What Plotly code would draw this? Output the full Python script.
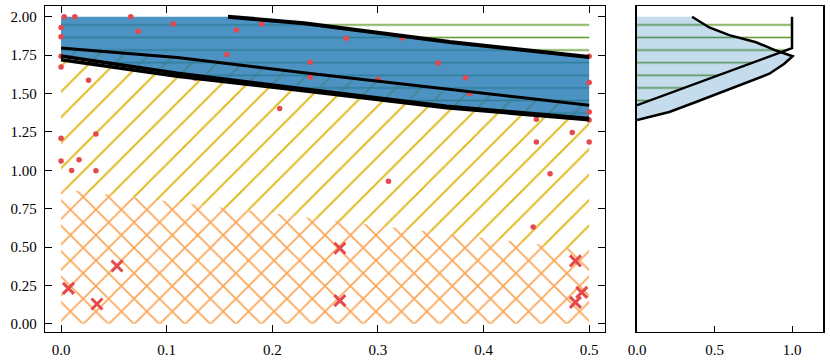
import plotly.graph_objects as go

# ---- data ----
# red dots (observations)
dot_x = [0.003, 0.013, 0.066, 0.0, 0.0, 0.073, 0.106, 0.0, 0.0, 0.026, 0.166, 0.19, 0.157,
         0.236, 0.236, 0.127, 0.27, 0.323, 0.357, 0.30, 0.383, 0.387, 0.5, 0.5, 0.5, 0.5,
         0.45, 0.484, 0.207, 0.45, 0.5, 0.0, 0.033, 0.0, 0.017, 0.010, 0.033, 0.31, 0.463, 0.447]
dot_y = [2.0, 2.0, 2.0, 1.93, 1.87, 1.905, 1.953, 1.743, 1.672, 1.586, 1.913, 1.953, 1.754,
         1.704, 1.607, 1.60, 1.86, 1.862, 1.698, 1.592, 1.603, 1.50, 1.743, 1.571, 1.38, 1.327,
         1.333, 1.247, 1.403, 1.184, 1.184, 1.208, 1.236, 1.061, 1.068, 0.999, 0.997, 0.928, 0.977, 0.63]

# red crosses
cross_x = [0.007, 0.034, 0.053, 0.264, 0.264, 0.487, 0.493, 0.487]
cross_y = [0.231, 0.129, 0.377, 0.492, 0.151, 0.41, 0.205, 0.14]

# boundary lines
l1_x = [0.158, 0.23, 0.368, 0.5]
l1_y = [2.0, 1.958, 1.835, 1.738]
l2_x = [0.0, 0.11, 0.23, 0.36, 0.5]
l2_y = [1.797, 1.735, 1.635, 1.535, 1.424]
l3a_x = [0.0, 0.11, 0.236, 0.365, 0.5]
l3a_y = [1.745, 1.632, 1.525, 1.418, 1.337]
l3b_x = [0.0, 0.11, 0.236, 0.365, 0.5]
l3b_y = [1.72, 1.612, 1.513, 1.408, 1.329]
orange_x = [0.0, 0.5]
orange_y = [0.878, 0.48]
y_top = 2.0

# right marginal panel
green_mx = [0.0, 1.0, 1.0, 0.0]
green_my = [1.424, 1.795, 2.0, 2.0]
dens_x = [0.0, 0.208, 0.38, 0.574, 0.725, 0.854, 0.95, 1.004, 0.897, 0.768, 0.595, 0.466, 0.355]
dens_y = [1.327, 1.38, 1.445, 1.521, 1.575, 1.629, 1.694, 1.743, 1.78, 1.834, 1.88, 1.93, 2.0]

RED = "#e5484d"
BLUE = "rgba(31,119,180,0.8)"
LIGHTBLUE = "rgba(31,119,180,0.26)"
GREEN = "#6a9f38"
YELLOW = "#e0bb22"
ORANGE = "#fba555"
NOFILL = "rgba(0,0,0,0)"

fig = go.Figure()

def patch(x, y, shape, color, size, solidity, xa="x", ya="y", fill=NOFILL):
    fig.add_trace(go.Scatter(
        x=x, y=y, mode="none", fill="toself", fillcolor=fill, xaxis=xa, yaxis=ya,
        fillpattern=dict(shape=shape, fgcolor=color, bgcolor=fill, size=size,
                         solidity=solidity, fgopacity=1),
        showlegend=False, hoverinfo="skip"))

# orange crosshatch (bottom)
patch([0.0, 0.5] + orange_x[::-1], [0.0, 0.0] + orange_y[::-1], "x", ORANGE, 18, 0.18)
# yellow diagonal hatch
patch(l2_x + orange_x[::-1], l2_y + orange_y[::-1], "/", YELLOW, 18, 0.11)
# green horizontal hatch
patch([0.0, 0.5] + l3b_x[::-1], [y_top, y_top] + l3b_y[::-1], "-", GREEN, 12.6, 0.13)
# blue band
fig.add_trace(go.Scatter(
    x=[0.0] + l1_x + l3a_x[::-1], y=[y_top] + l1_y + l3a_y[::-1],
    mode="none", fill="toself", fillcolor=BLUE, showlegend=False, hoverinfo="skip"))

fig.add_trace(go.Scatter(x=dot_x, y=dot_y, mode="markers",
                         marker=dict(color=RED, size=5.5), showlegend=False))

for lx, ly, w in [(l1_x, l1_y, 4), (l2_x, l2_y, 3), (l3a_x, l3a_y, 3.5), (l3b_x, l3b_y, 3.5)]:
    fig.add_trace(go.Scatter(x=lx, y=ly, mode="lines", line=dict(color="black", width=w),
                             showlegend=False, hoverinfo="skip"))

fig.add_trace(go.Scatter(x=cross_x, y=cross_y, mode="markers",
                         marker=dict(symbol="x-thin", size=11, line=dict(color=RED, width=3)),
                         showlegend=False))

# right panel
patch(green_mx, green_my, "-", GREEN, 12.6, 0.13, xa="x2", ya="y2")
fig.add_trace(go.Scatter(x=dens_x + [0.0], y=dens_y + [y_top], mode="none", fill="toself",
                         fillcolor=LIGHTBLUE, xaxis="x2", yaxis="y2", showlegend=False))
fig.add_trace(go.Scatter(x=green_mx[:3], y=green_my[:3], mode="lines",
                         line=dict(color="black", width=2.5), xaxis="x2", yaxis="y2",
                         showlegend=False))
fig.add_trace(go.Scatter(x=dens_x, y=dens_y, mode="lines", line=dict(color="black", width=2.5),
                         xaxis="x2", yaxis="y2", showlegend=False))

font = dict(family="Liberation Serif", size=15, color="black")
axis_common = dict(showgrid=False, zeroline=False, showline=True, linecolor="black",
                   linewidth=1.4, ticks="inside", ticklen=7, tickwidth=1.2, tickcolor="black",
                   tickfont=font)

fig.update_layout(
    width=830, height=363, margin=dict(l=45, r=7, t=5, b=30),
    paper_bgcolor="white", plot_bgcolor="white",
    xaxis=dict(axis_common, domain=[0, 0.7198], range=[-0.0152, 0.515], mirror="ticks",
               tickvals=[0, 0.1, 0.2, 0.3, 0.4, 0.5], tickformat=".1f", ticklabelstandoff=4),
    yaxis=dict(axis_common, range=[-0.053, 2.07], mirror="ticks",
               tickvals=[0, 0.25, 0.5, 0.75, 1.0, 1.25, 1.5, 1.75, 2.0], tickformat=".2f",
               ticklabelstandoff=4),
    xaxis2=dict(axis_common, domain=[0.761, 1.0], range=[0, 1.2], mirror=True, ticklen=6,
                anchor="y2", tickvals=[0, 0.5, 1.0], tickformat=".1f", ticklabelstandoff=4),
    yaxis2=dict(axis_common, anchor="x2", matches="y", mirror=True, ticks="",
                showticklabels=False, linewidth=2),
)

fig.write_html("out.html", config={"displayModeBar": False},
               post_script="document.body.style.margin='0';")
